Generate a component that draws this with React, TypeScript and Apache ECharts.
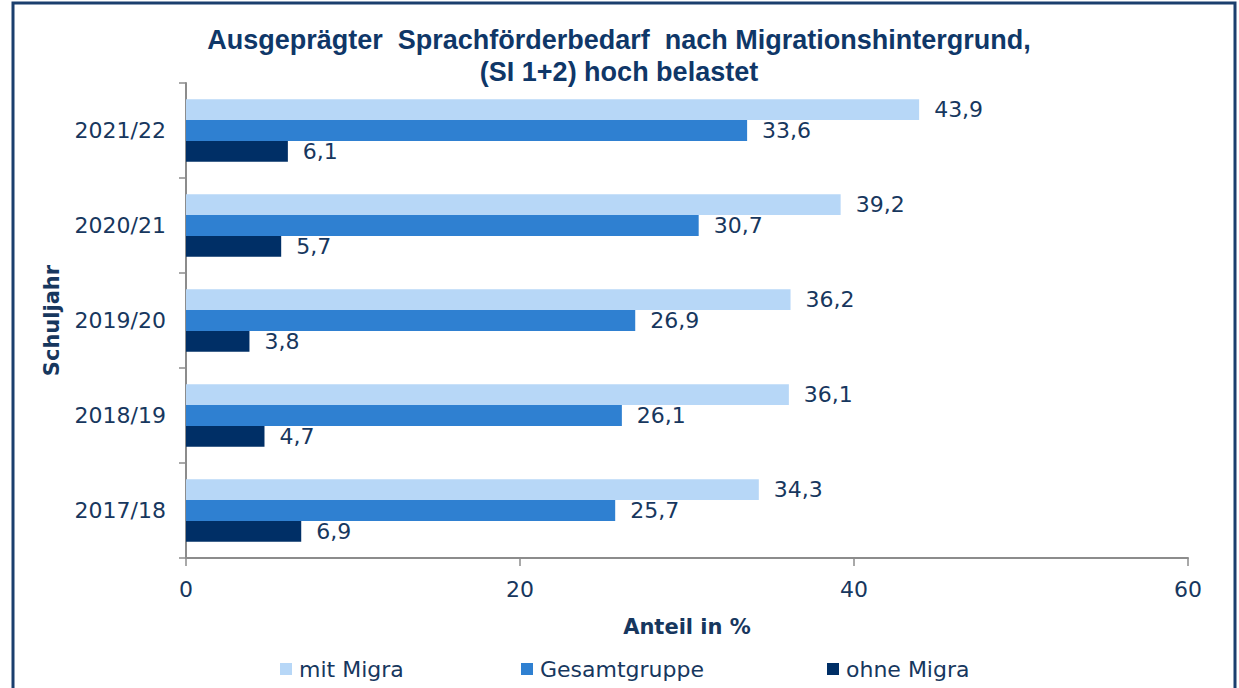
import React, { useEffect, useRef } from "react";
import * as echarts from "echarts";

const categories = ["2017/18", "2018/19", "2019/20", "2020/21", "2021/22"];
const mitMigra = [34.3, 36.1, 36.2, 39.2, 43.9];
const gesamt = [25.7, 26.1, 26.9, 30.7, 33.6];
const ohneMigra = [6.9, 4.7, 3.8, 5.7, 6.1];
const xTicks = { min: 0, max: 60, interval: 20 };

const TEXT = "#17375E";
const TITLE = "#0F3768";
const FONT = "DejaVu Sans";
const C_LIGHT = "#B7D7F7";
const C_MID = "#2F80D1";
const C_DARK = "#002F66";

export default function App() {
  const ref = useRef<HTMLDivElement>(null);
  useEffect(() => {
    if (!ref.current) return;
    const chart = echarts.init(ref.current, null, { renderer: "svg" });
    const label = {
      show: true,
      position: "right",
      distance: 15,
      fontFamily: FONT,
      fontSize: 22,
      color: TEXT,
      formatter: (p: any) => String(p.value.toFixed(1)).replace(".", ","),
    };
    const legendBase = {
      top: 658,
      itemWidth: 12,
      itemHeight: 12,
      padding: 0,
      icon: "rect",
      textStyle: { fontFamily: FONT, fontSize: 22, color: TEXT, padding: [0, 0, 0, 2] },
    };
    chart.setOption({
      animation: false,
      backgroundColor: "#fff",
      title: {
        text: "Ausgeprägter  Sprachförderbedarf  nach Migrationshintergrund,\n(SI 1+2) hoch belastet",
        left: 614,
        textAlign: "center",
        top: 19,
        textStyle: { fontFamily: "Liberation Sans", fontWeight: "bold", fontSize: 27, color: TITLE, lineHeight: 32 },
      },
      graphic: [
        {
          type: "rect",
          shape: { x: 13, y: 3, width: 1222, height: 720 },
          style: { fill: "none", stroke: "#1B3F6E", lineWidth: 3 },
          silent: true,
        },
      ],
      legend: [
        { ...legendBase, left: 280, data: ["mit Migra"] },
        { ...legendBase, left: 521, data: ["Gesamtgruppe"] },
        { ...legendBase, left: 827, data: ["ohne Migra"] },
      ],
      grid: { left: 186, right: 51, top: 83, bottom: 130 },
      xAxis: {
        type: "value",
        ...xTicks,
        name: "Anteil in %",
        nameLocation: "middle",
        nameGap: 58,
        nameTextStyle: { fontFamily: FONT, fontWeight: "bold", fontSize: 21, color: TEXT },
        axisLine: { show: true, lineStyle: { color: "#8C8C8C", width: 2 } },
        axisTick: { show: true, length: 8, lineStyle: { color: "#8C8C8C", width: 1.5 } },
        splitLine: { show: false },
        axisLabel: { fontFamily: FONT, fontSize: 22, color: TEXT, margin: 20 },
      },
      yAxis: {
        type: "category",
        data: categories,
        name: "Schuljahr",
        nameLocation: "middle",
        nameRotate: 90,
        nameGap: 124,
        nameTextStyle: { fontFamily: FONT, fontWeight: "bold", fontSize: 21, color: TEXT },
        axisLine: { show: true, lineStyle: { color: "#8C8C8C", width: 2 } },
        axisTick: { show: true, length: 7, lineStyle: { color: "#8C8C8C", width: 1.5 } },
        axisLabel: { fontFamily: FONT, fontSize: 22, color: TEXT, margin: 20 },
      },
      series: [
        { name: "mit Migra", type: "bar", data: mitMigra, itemStyle: { color: C_LIGHT }, barGap: "0%", barCategoryGap: "34%", label },
        { name: "Gesamtgruppe", type: "bar", data: gesamt, itemStyle: { color: C_MID }, barGap: "0%", barCategoryGap: "34%", label },
        { name: "ohne Migra", type: "bar", data: ohneMigra, itemStyle: { color: C_DARK }, barGap: "0%", barCategoryGap: "34%", label },
      ],
    });
    return () => chart.dispose();
  }, []);
  return <div ref={ref} style={{ position: "absolute", left: 0, top: 0, width: 1239, height: 688 }} />;
}
